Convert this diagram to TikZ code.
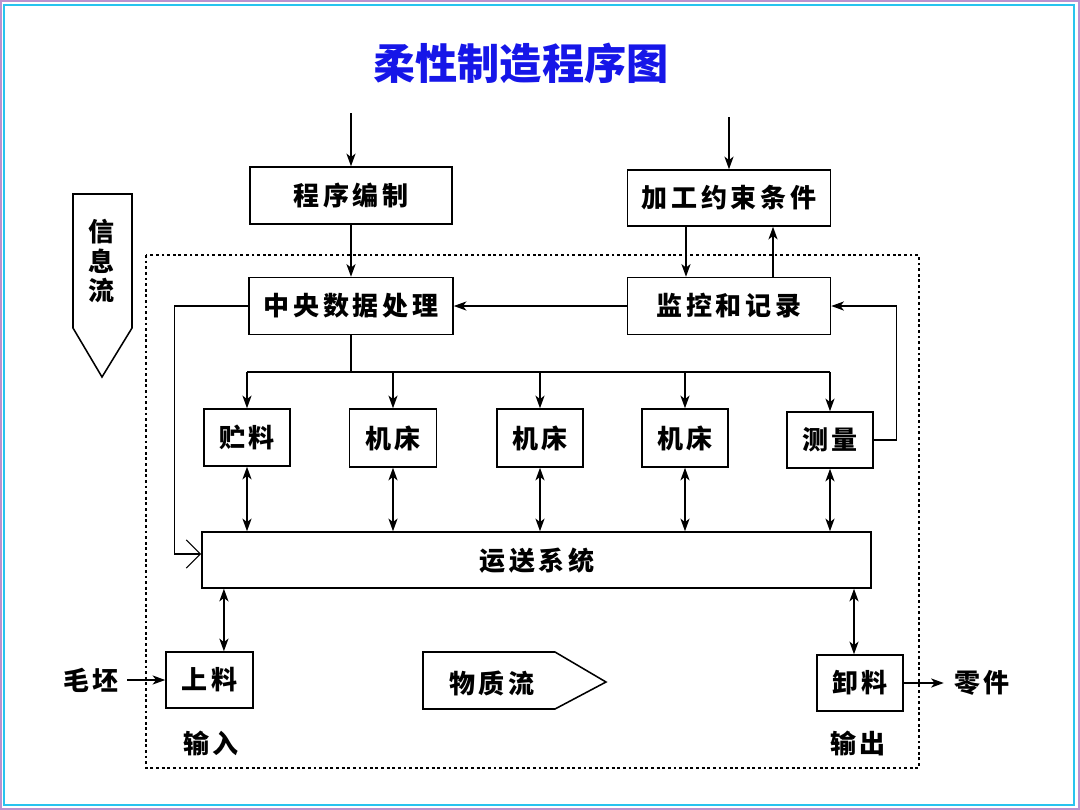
\documentclass[tikz,border=0pt]{standalone}
\usepackage{fontspec}
\usetikzlibrary{arrows.meta,calc}
\newfontfamily\cjk{Noto Sans CJK SC}
\definecolor{titleblue}{RGB}{22,22,232}
\definecolor{framecyan}{RGB}{40,196,238}
\definecolor{framepurple}{RGB}{186,146,206}
\newcommand\lbl{\cjk\bfseries\fontsize{18.5pt}{20pt}\selectfont\addfontfeature{LetterSpace=15}}
\tikzset{
  box/.style={draw, line width=1.1pt, inner sep=0pt, font=\lbl},
  txt/.style={inner sep=0pt, font=\lbl},
  arr/.style={-{Stealth[length=9pt,width=6.5pt,inset=2.5pt]}, line width=0.9pt},
  darr/.style={{Stealth[length=9pt,width=6.5pt,inset=2.5pt]}-{Stealth[length=9pt,width=6.5pt,inset=2.5pt]}, line width=0.9pt},
  openarr/.style={-{Straight Barb[length=10pt,width=20pt]}, line width=0.8pt},
  plain/.style={line width=0.9pt},
  flow/.style={draw, line width=1.1pt},
  dotbox/.style={draw, line width=0.9pt, dash pattern=on 2pt off 2pt}
}
\begin{document}
\begin{tikzpicture}[x=0.025cm,y=-0.025cm]
\useasboundingbox (0,0) rectangle (1080,810);
% frame
\draw[framepurple, line width=1.5pt] (1,1) rectangle (1079,809);
\draw[framecyan, line width=1.6pt] (4,5) rectangle (1074,805);
% title
\node[inner sep=0pt, text=titleblue, font=\cjk\bfseries\fontsize{30pt}{32pt}\selectfont] (title) at (521,63) {柔性制造程序图};
% dotted system boundary
\draw[dotbox] (146,255) rectangle (919,768);
% info flow arrow
\draw[flow] (73,194) -- (132,194) -- (132,328) -- (102,377) -- (73,328) -- cycle;
\node[txt, align=center, font=\cjk\bfseries\fontsize{18.5pt}{21pt}\selectfont] (info) at (102,261) {信\\息\\流};
% material flow arrow
\draw[flow] (423,652) -- (555,652) -- (606,682) -- (555,709) -- (423,709) -- cycle;
\node[txt] (mat) at (492,683) {物质流};
% boxes
\node[box, minimum width=5.05cm, minimum height=1.425cm] (prog) at (351,195.5) {程序编制};
\node[box, minimum width=5.1cm, minimum height=1.425cm] (cpu) at (351,306) {中央数据处理};
\node[box, minimum width=5.075cm, minimum height=1.4cm] (cons) at (729,198) {加工约束条件};
\node[box, minimum width=5.075cm, minimum height=1.425cm] (mon) at (729,306) {监控和记录};
\node[box, minimum width=2.15cm, minimum height=1.425cm] (s1) at (247,437.5) {贮料};
\node[box, minimum width=2.175cm, minimum height=1.45cm] (m1) at (393,438) {机床};
\node[box, minimum width=2.15cm, minimum height=1.45cm] (m2) at (540,438) {机床};
\node[box, minimum width=2.15cm, minimum height=1.45cm] (m3) at (685,438) {机床};
\node[box, minimum width=2.15cm, minimum height=1.4cm] (meas) at (830,440) {测量};
\node[box, minimum width=16.725cm, minimum height=1.4cm] (conv) at (536.5,560) {};
\node[txt] (convt) at (537,561) {运送系统};
\node[box, minimum width=2.175cm, minimum height=1.4cm] (load) at (209.5,680) {上料};
\node[box, minimum width=2.15cm, minimum height=1.4cm] (unload) at (860,683) {卸料};
% outside labels
\node[txt] (raw) at (91,680) {毛坯};
\node[txt] (part) at (982,683) {零件};
\node[txt] (inp) at (211,743) {输入};
\node[txt] (outp) at (858,743) {输出};
% inputs from above
\coordinate (in1) at (351,113);
\coordinate (in2) at (729,117);
\draw[arr] (in1) -- (prog.north);
\draw[arr] (in2) -- (cons.north);
\draw[arr] (prog.south) -- (cpu.north);
\draw[arr] ([xshift=-1.075cm]cons.south) -- ([xshift=-1.075cm]mon.north);
\draw[arr] ([xshift=1.1cm]mon.north) -- ([xshift=1.1cm]cons.south);
\draw[arr] (mon.west) -- (cpu.east);
\draw[arr] (meas.east) -- ++(23,0) |- (mon.east);
\draw[openarr] (cpu.west) -- ++(-74,0) |- ([yshift=0.15cm]conv.west);
% distribution bus
\coordinate (bus) at (0,372);
\draw[plain] (cpu.south) -- (cpu.south |- bus);
\draw[plain] (s1.north |- bus) -- (meas.north |- bus);
\foreach \n in {s1,m1,m2,m3,meas}{
  \draw[arr] (\n.north |- bus) -- (\n.north);
  \draw[darr] (\n.south) -- (\n.south |- conv.north);
}
\draw[darr] ([xshift=0.36cm]load.north |- conv.south) -- ([xshift=0.36cm]load.north);
\draw[darr] ([xshift=-0.15cm]unload.north |- conv.south) -- ([xshift=-0.15cm]unload.north);
\draw[arr] (raw.east) ++(8,0) -- (load.west);
\draw[arr] (unload.east) -- ([xshift=-0.25cm]part.west);
\end{tikzpicture}
\end{document}
